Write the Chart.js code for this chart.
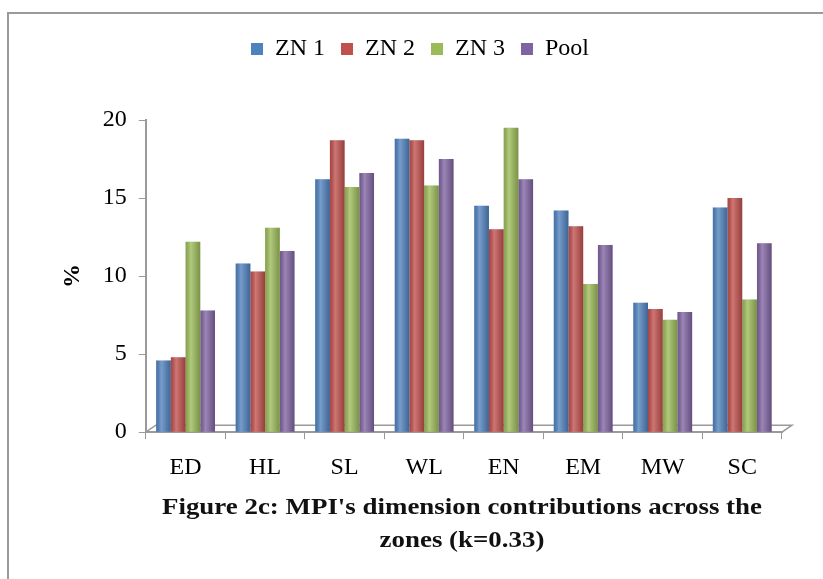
<!DOCTYPE html>
<html>
<head>
<meta charset="utf-8">
<script src="https://cdn.jsdelivr.net/npm/chart.js@4"></script>
<style>
  html, body { margin: 0; padding: 0; background: #fff; }
  #wrap { position: relative; width: 823px; height: 579px; }
  #frame { position: absolute; left: 7px; top: 12px; right: 0; bottom: 0;
           border-top: 2px solid #9a9a9a; border-left: 2px solid #9a9a9a; }
  canvas { position: absolute; left: 0; top: 0; }
  #caption { position: absolute; left: 140px; width: 644px; top: 490px;
             text-align: center; font: bold 23px "Liberation Serif", "Times New Roman", serif;
             line-height: 33px; color: #111; transform: scaleX(1.17); }
</style>
</head>
<body>
<div id="wrap">
  <div id="frame"></div>
  <canvas id="mpiChart" width="823" height="579"></canvas>
  <div id="caption">Figure 2c: MPI's dimension contributions across the<br>zones (k=0.33)</div>
</div>
<script>
// الأبعاد (categories)
const dimensions = ["ED", "HL", "SL", "WL", "EN", "EM", "MW", "SC"];

// قيم كل منطقة
const zn1 = [4.6, 10.8, 16.2, 18.8, 14.5, 14.2, 8.3, 14.4];
const zn2 = [4.8, 10.3, 18.7, 18.7, 13.0, 13.2, 7.9, 15.0];
const zn3 = [12.2, 13.1, 15.7, 15.8, 19.5, 9.5, 7.2, 8.5];
const pool = [7.8, 11.6, 16.6, 17.5, 16.2, 12.0, 7.7, 12.1];

const seriesNames = ["ZN 1", "ZN 2", "ZN 3", "Pool"];
const seriesColors = ["#4F81BD", "#C0504D", "#9BBB59", "#8064A2"];
const yTicks = [0, 5, 10, 15, 20];

const serif = "'Liberation Serif', 'Times New Roman', serif";

// مسافة إضافية تحت وسيلة الإيضاح
const legendGap = {
    id: "legendGap",
    beforeInit(chart) {
        const fit = chart.legend.fit;
        chart.legend.fit = function () {
            fit.bind(chart.legend)();
            this.height += 49;
        };
    },
};

// أرضية ثلاثية الأبعاد خفيفة
const floor = {
    id: "floor",
    beforeDatasetsDraw(chart) {
        const { left, right, bottom } = chart.chartArea;
        const c = chart.ctx;
        c.save();
        c.strokeStyle = "#9a9a9a";
        c.lineWidth = 1.5;
        c.beginPath();
        c.moveTo(left, bottom);
        c.lineTo(left + 10, bottom - 7);
        c.lineTo(right + 10, bottom - 7);
        c.lineTo(right, bottom);
        c.stroke();
        c.restore();
    },
};

// تظليل أسطواني بسيط فوق الأعمدة
const cylinderShade = {
    id: "cylinderShade",
    afterDatasetsDraw(chart) {
        const c = chart.ctx;
        chart.data.datasets.forEach((ds, i) => {
            chart.getDatasetMeta(i).data.forEach((bar) => {
                const left = bar.x - bar.width / 2;
                const g = c.createLinearGradient(left, 0, left + bar.width, 0);
                g.addColorStop(0, "rgba(0,0,0,0.12)");
                g.addColorStop(0.35, "rgba(255,255,255,0.22)");
                g.addColorStop(1, "rgba(0,0,0,0.22)");
                c.save();
                c.fillStyle = g;
                c.fillRect(left, bar.y, bar.width, bar.base - bar.y);
                c.restore();
            });
        });
    },
};

const ctx = document.getElementById("mpiChart").getContext("2d");

new Chart(ctx, {
    type: "bar",
    data: {
        labels: dimensions,
        datasets: [zn1, zn2, zn3, pool].map((values, i) => ({
            label: seriesNames[i],
            data: values,
            backgroundColor: seriesColors[i],
            borderWidth: 0,
            categoryPercentage: 0.74,
            barPercentage: 1.0,
        })),
    },
    options: {
        responsive: false,
        animation: false,
        layout: { padding: { left: 58, right: 41, top: 21, bottom: 83 } },
        plugins: {
            legend: {
                position: "top",
                labels: {
                    boxWidth: 12,
                    boxHeight: 12,
                    padding: 16,
                    color: "#000",
                    font: { family: serif, size: 24 },
                },
            },
            tooltip: { enabled: false },
        },
        scales: {
            x: {
                grid: {
                    display: true,
                    drawOnChartArea: false,
                    drawTicks: true,
                    tickLength: 7,
                    color: "#9a9a9a",
                    offset: true,
                },
                border: { color: "#9a9a9a", width: 2 },
                ticks: { color: "#000", padding: 14, font: { family: serif, size: 24 } },
            },
            y: {
                min: 0,
                max: 20,
                afterBuildTicks(scale) {
                    scale.ticks = yTicks.map((v) => ({ value: v }));
                },
                grid: {
                    drawOnChartArea: false,
                    drawTicks: true,
                    tickLength: 7,
                    color: "#9a9a9a",
                },
                border: { color: "#9a9a9a", width: 2 },
                ticks: { color: "#000", padding: 12, font: { family: serif, size: 24 } },
                title: {
                    display: true,
                    text: "%",
                    color: "#000",
                    padding: { top: 0, bottom: 4 },
                    font: { family: serif, size: 24, weight: "bold" },
                },
            },
        },
    },
    plugins: [legendGap, floor, cylinderShade],
});
</script>
</body>
</html>
